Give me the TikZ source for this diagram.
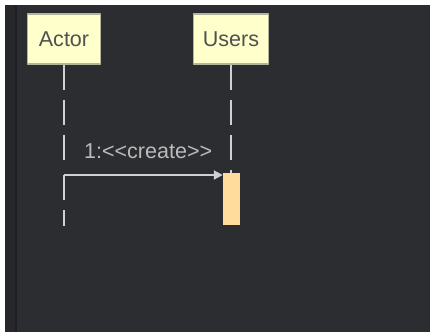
\documentclass[tikz,border=0pt]{standalone}
\usepackage{fontspec}
\setmainfont{Liberation Sans}
\usetikzlibrary{arrows.meta}
\definecolor{bgdark}{HTML}{2B2D30}
\definecolor{gutter}{HTML}{26272A}
\definecolor{gutterline}{HTML}{1E1F22}
\definecolor{boxfill}{HTML}{FFFFCC}
\definecolor{boxline}{HTML}{B4B49C}
\definecolor{boxtext}{HTML}{505050}
\definecolor{actfill}{HTML}{FFDB9C}
\definecolor{msgtext}{HTML}{BBBBBB}
\definecolor{msgline}{HTML}{D0D0D0}
\tikzset{
  participant/.style={draw=boxline, line width=1.2bp, fill=boxfill, text=boxtext,
    minimum height=50bp, inner sep=0pt, font=\fontsize{21.6}{26}\selectfont},
  lifeline/.style={draw=msgline, line width=2bp, dash pattern=on 25bp off 10bp},
  activation/.style={draw=none, fill=actfill, minimum width=17bp, minimum height=52bp, inner sep=0pt},
  msg/.style={draw=msgline, line width=2bp, -{Triangle[length=9bp, width=9bp]}},
  lbl/.style={text=msgtext, inner sep=0pt, font=\fontsize{21.6}{26}\selectfont}
}
\begin{document}
\begin{tikzpicture}[x=1bp, y=-1bp, line join=round]
  \useasboundingbox (0,0) rectangle (432,333);
  % window background
  \fill[white] (0,0) rectangle (432,333);
  \fill[bgdark] (5,5) rectangle (430,332);
  \fill[gutter] (5,5) rectangle (15,332);
  \fill[gutterline] (15,5) rectangle (17,332);
  % participants
  \node[participant, minimum width=73bp] (actor) at (64,39) {Actor};
  \node[participant, minimum width=75bp] (users) at (231,39) {Users};
  \node[activation] (act) at (231.5,199) {};
  \coordinate (m1) at (64,175);
  \coordinate (aend) at (64,226);
  % lifelines
  \draw[lifeline] (actor.south) -- (m1 |- 0,164);
  \draw[lifeline] (m1) -- (aend);
  \draw[lifeline] (users.south) -- (users.south |- act.north);
  % message
  \draw[msg] (m1) -- (m1 -| act.west) node[lbl, pos=.53, above=15bp] (msg1) {1:<{}<create>{}>};
\end{tikzpicture}
\end{document}
